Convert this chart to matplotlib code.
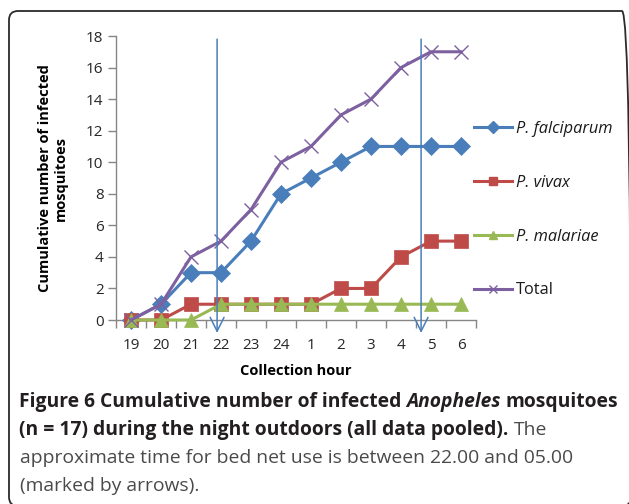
import matplotlib
matplotlib.use("Agg")
import matplotlib.pyplot as plt
from matplotlib.lines import Line2D
from matplotlib.patches import FancyBboxPatch
from matplotlib.transforms import IdentityTransform

# ---- data ----
hours = ["19", "20", "21", "22", "23", "24", "1", "2", "3", "4", "5", "6"]
falciparum = [0, 1, 3, 3, 5, 8, 9, 10, 11, 11, 11, 11]
vivax = [0, 0, 1, 1, 1, 1, 1, 2, 2, 4, 5, 5]
malariae = [0, 0, 0, 1, 1, 1, 1, 1, 1, 1, 1, 1]
total = [0, 1, 4, 5, 7, 10, 11, 13, 14, 16, 17, 17]
# bed net period arrows, in category-index units
net_arrows = [2.87, 9.67]

W, H = 629, 504
FONT = "Open Sans"

fig = plt.figure(figsize=(W / 100, H / 100), dpi=100)
fig.patch.set_facecolor("white")

# rounded frame around figure + caption
frame = FancyBboxPatch((9, -2), 622, 495, boxstyle="round,pad=0,rounding_size=9",
                       transform=IdentityTransform(), facecolor="none",
                       edgecolor="#2b2b2b", linewidth=1.3)
fig.patches.append(frame)

ax = fig.add_axes([116 / W, 1 - 320 / H, 360 / W, 284 / H])
x = list(range(len(hours)))

series = [
    (falciparum, "P. falciparum", "#4A7EBB", "D", 9.5),
    (vivax, "P. vivax", "#BE4B48", "s", 9.5),
    (malariae, "P. malariae", "#98B954", "^", 10.5),
    (total, "Total", "#7D60A0", "x", 10),
]
for k, (vals, label, col, mk, ms) in enumerate(series):
    ax.plot(x, vals, color=col, linewidth=2.2, marker=mk, markersize=ms,
            markerfacecolor=col, markeredgecolor=col,
            markeredgewidth=1.0 if mk == "x" else 0.5,
            clip_on=False, zorder=3 + k)

for xa in net_arrows:
    ax.annotate("", xy=(xa, -0.82), xytext=(xa, 17.8),
                arrowprops=dict(arrowstyle="->,head_length=1.0,head_width=0.5",
                                color="#4A7EBB", linewidth=1.1,
                                shrinkA=0, shrinkB=0),
                annotation_clip=False, zorder=10)

ax.set_xlim(-0.5, len(hours) - 0.5)
ax.set_ylim(0, 18)
ax.set_yticks(range(0, 19, 2))
ax.set_xticks(x)
ax.set_xticklabels(hours)
ax.set_xticks([i - 0.5 for i in range(len(hours) + 1)], minor=True)
ax.tick_params(axis="x", which="major", length=0, pad=13)
ax.tick_params(axis="x", which="minor", length=6, width=1, color="#868686",
               direction="out")
ax.tick_params(axis="y", length=6, width=1, color="#868686", direction="out",
               pad=3)
for lab in ax.get_xticklabels() + ax.get_yticklabels():
    lab.set_fontfamily(FONT)
    lab.set_fontsize(11)
    lab.set_color("#262626")

for s in ["top", "right"]:
    ax.spines[s].set_visible(False)
for s in ["left", "bottom"]:
    ax.spines[s].set_color("#868686")
    ax.spines[s].set_linewidth(1)

fig.text(296 / W, 1 - 371 / H, "Collection hour", ha="center", va="center",
         fontfamily=FONT, fontweight="bold", fontsize=10.5, color="black")
fig.text(53 / W, 1 - 178 / H, "Cumulative number of infected\nmosquitoes",
         ha="center", va="center", rotation=90, multialignment="center",
         fontfamily=FONT, fontweight="bold", fontsize=10.5, color="black",
         linespacing=1.2)

handles = [Line2D([], [], color=col, linewidth=2.2, marker=mk,
                  markersize=6, markerfacecolor=col, markeredgecolor=col)
           for _, _, col, mk, _ in series]
leg = fig.legend(handles, [s[1] for s in series], loc="upper left",
                 bbox_to_anchor=(466 / W, 1 - 113 / H), frameon=False,
                 handlelength=2.3, handletextpad=0.25, labelspacing=2.3,
                 borderpad=0, prop={"family": FONT, "size": 11.8})
for t in leg.get_texts()[:3]:
    t.set_fontstyle("italic")
for t in leg.get_texts():
    t.set_color("#1a1a1a")

# ---- caption with mixed styles ----
renderer = fig.canvas.get_renderer()


def text_width(s, size, weight, style):
    t = fig.text(0, 0, s, fontfamily=FONT, fontsize=size, fontweight=weight,
                 fontstyle=style)
    w = t.get_window_extent(renderer).width
    t.remove()
    return w


def space_width(size, weight, style):
    return text_width("a a", size, weight, style) - text_width("aa", size, weight, style)


def draw_runs(x0, y0, runs, size):
    xpos = x0
    for s, weight, style, col in runs:
        if s == " ":
            xpos += space_width(size, weight, style)
            continue
        t = fig.text(xpos / W, 1 - y0 / H, s, fontfamily=FONT, fontsize=size,
                     fontweight=weight, fontstyle=style, color=col,
                     va="baseline", ha="left")
        xpos += t.get_window_extent(renderer).width


def runs_width(runs, size):
    total_w = 0
    for s, weight, style, _ in runs:
        if s == " ":
            total_w += space_width(size, weight, style)
        else:
            total_w += text_width(s, size, weight, style)
    return total_w


BOLD_C = "#231f20"
REG_C = "#4a4a4a"
line1 = [("Figure 6 Cumulative number of infected", "bold", "normal", BOLD_C),
         (" ", "bold", "normal", BOLD_C),
         ("Anopheles", "bold", "italic", BOLD_C),
         (" ", "bold", "normal", BOLD_C),
         ("mosquitoes", "bold", "normal", BOLD_C)]

cap_size = 12 * 598 / runs_width(line1, 12)
draw_runs(19, 407, line1, cap_size)
draw_runs(19, 435, [("(n = 17) during the night outdoors (all data pooled).", "bold", "normal", BOLD_C),
                    (" ", "normal", "normal", REG_C),
                    ("The", "normal", "normal", REG_C)], cap_size)
draw_runs(20, 463, [("approximate time for bed net use is between 22.00 and 05.00", "normal", "normal", REG_C)], cap_size)
draw_runs(20, 491, [("(marked by arrows).", "normal", "normal", REG_C)], cap_size)

fig.savefig("out.png", dpi=100)
